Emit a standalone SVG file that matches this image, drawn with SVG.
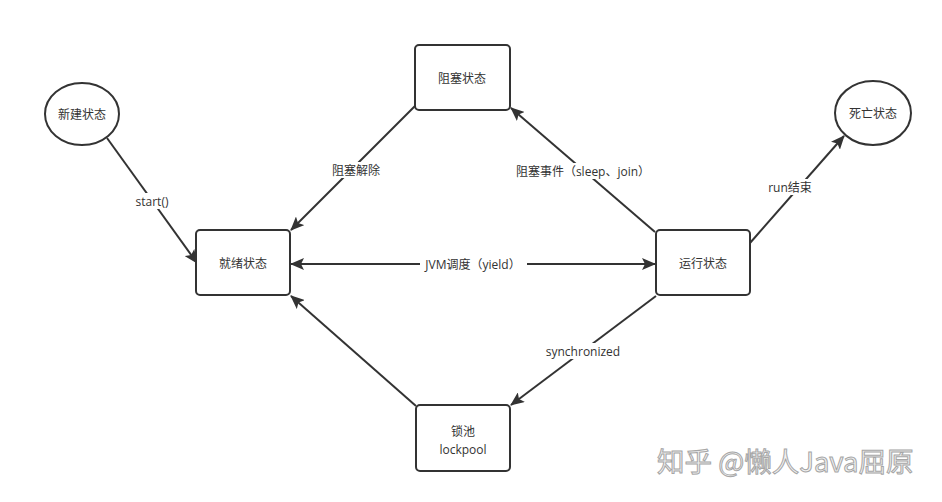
<svg xmlns="http://www.w3.org/2000/svg" width="942" height="502" viewBox="0 0 942 502">
<defs>
<style>
.node{fill:#fff;stroke:#333;stroke-width:2}
.t{font-family:"Open Sans","Noto Sans CJK SC",sans-serif;font-size:12px;fill:#333;text-anchor:middle;dominant-baseline:central}
.edge{stroke:#333;stroke-width:2;fill:none}
.bg{fill:#fff}
.wm{font-family:"Noto Sans CJK SC",sans-serif;font-size:27.5px;fill:#f2f2f2;stroke:#a6a6a6;stroke-width:1}
</style>
<marker id="ah" markerUnits="userSpaceOnUse" markerWidth="14" markerHeight="12" viewBox="0 0 14 12" refX="13" refY="6" orient="auto-start-reverse">
<path d="M0,0 L14,6 L0,12 L3,6 Z" fill="#333"/>
</marker>
</defs>
<rect width="942" height="502" fill="#fff"/>
<g id="connectors">
<line class="edge" x1="107" y1="138" x2="197" y2="263" marker-end="url(#ah)"/>
<line class="edge" x1="415" y1="106" x2="291" y2="230" marker-end="url(#ah)"/>
<line class="edge" x1="655" y1="232" x2="511" y2="108" marker-end="url(#ah)"/>
<line class="edge" x1="291" y1="264" x2="655" y2="264" marker-start="url(#ah)" marker-end="url(#ah)"/>
<line class="edge" x1="750" y1="243" x2="844" y2="136" marker-end="url(#ah)"/>
<line class="edge" x1="656" y1="296" x2="511" y2="405" marker-end="url(#ah)"/>
<line class="edge" x1="416" y1="406" x2="291" y2="296" marker-end="url(#ah)"/>
<rect class="bg" x="131" y="193" width="42" height="16"/>
<text class="t" x="152" y="201">start()</text>
<rect class="bg" x="328" y="162" width="56" height="16"/>
<text class="t" x="356" y="170">阻塞解除</text>
<rect class="bg" x="511" y="163" width="146" height="16"/>
<text class="t" x="583" y="171">阻塞事件（sleep、join）</text>
<rect class="bg" x="420" y="256" width="107" height="16"/>
<text class="t" x="473" y="264">JVM调度（yield）</text>
<rect class="bg" x="768" y="179" width="44" height="16"/>
<text class="t" x="790" y="187">run结束</text>
<rect class="bg" x="541" y="343" width="84" height="16"/>
<text class="t" x="583" y="351">synchronized</text>
</g>
<g id="n-new"><ellipse class="node" cx="82" cy="114" rx="37" ry="31"/><text class="t" x="82" y="114">新建状态</text></g>
<g id="n-dead"><ellipse class="node" cx="873" cy="113" rx="38" ry="32"/><text class="t" x="873" y="113">死亡状态</text></g>
<g id="n-ready"><rect class="node" x="196" y="230" width="94" height="65" rx="4"/><text class="t" x="243" y="263">就绪状态</text></g>
<g id="n-blocked"><rect class="node" x="415" y="45" width="95" height="65" rx="4"/><text class="t" x="462" y="78">阻塞状态</text></g>
<g id="n-running"><rect class="node" x="656" y="230" width="94" height="65" rx="4"/><text class="t" x="703" y="263">运行状态</text></g>
<g id="n-lock"><rect class="node" x="416" y="405" width="94" height="66" rx="4"/><text class="t" x="463" y="431">锁池</text><text class="t" x="463" y="449">lockpool</text></g>
<g id="watermark">
<text class="wm" x="657" y="472">知乎 @懒人Java屈原</text>
</g>
</svg>
